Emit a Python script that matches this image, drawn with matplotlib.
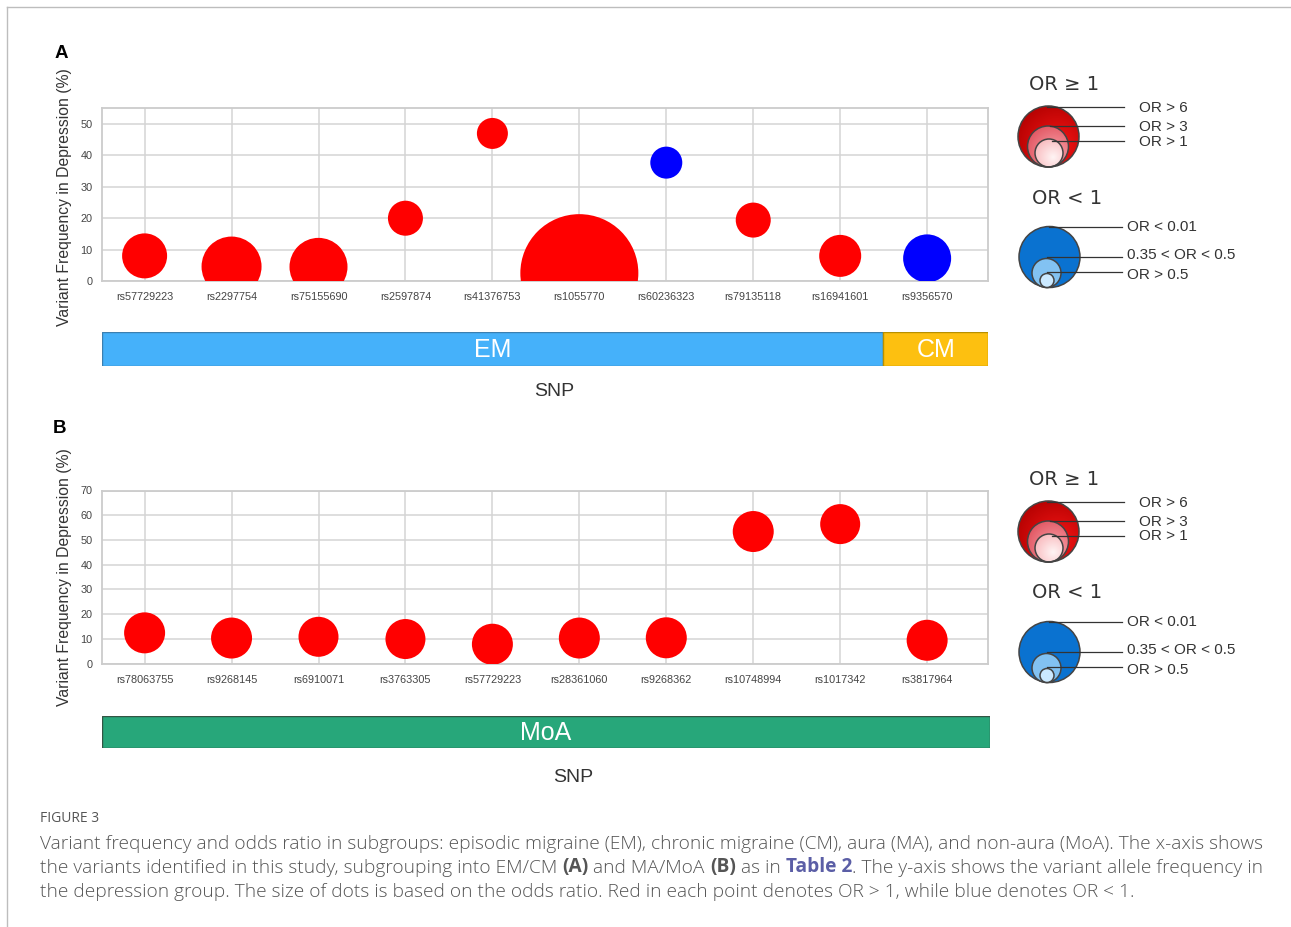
import matplotlib
matplotlib.use('Agg')
import matplotlib.pyplot as plt
import numpy as np
from matplotlib.patches import Circle, Rectangle
from matplotlib.colors import LinearSegmentedColormap

# ---------------- data ----------------
snps_a = ['rs57729223', 'rs2297754', 'rs75155690', 'rs2597874', 'rs41376753',
          'rs1055770', 'rs60236323', 'rs79135118', 'rs16941601', 'rs9356570']
freq_a = [8.0, 4.6, 4.5, 20.0, 47.0, 2.5, 37.7, 19.4, 8.0, 7.2]
bubble_a = [45, 60, 58, 35, 31, 118, 32, 35, 42, 48]          # bubble diameter (odds-ratio based)
or_ge1_a = [True, True, True, True, True, True, False, True, True, False]
groups_a = ['EM', 'CM']
group_n_a = [9, 1]
yticks_a = [0, 10, 20, 30, 40, 50]

snps_b = ['rs78063755', 'rs9268145', 'rs6910071', 'rs3763305', 'rs57729223',
          'rs28361060', 'rs9268362', 'rs10748994', 'rs1017342', 'rs3817964']
freq_b = [12.4, 10.3, 10.8, 9.9, 7.8, 10.3, 10.4, 53.4, 56.4, 9.4]
bubble_b = [41, 41, 40, 40, 41, 41, 41, 41, 40, 41]
or_ge1_b = [True] * 10
groups_b = ['MoA']
group_n_b = [10]
yticks_b = [0, 10, 20, 30, 40, 50, 60, 70]

# ---------------- figure ----------------
W, H = 1291, 927
DPI = 100
fig = plt.figure(figsize=(W / DPI, H / DPI), dpi=DPI)
fig.patch.set_facecolor('white')
PX2PT = 72.0 / DPI

def fr(x0, y0, x1, y1):
    return [x0 / W, 1 - y1 / H, (x1 - x0) / W, (y1 - y0) / H]

RED = '#ff0000'
BLUE = '#0000ff'
TXT = '#444444'
GRID = '#d4d4d4'

def bubble_panel(rect, snps, freq, bubble, ge1, yticks, ylim):
    ax = fig.add_axes(rect)
    x = np.arange(len(snps))
    cols = [RED if g else BLUE for g in ge1]
    sizes = [(d * PX2PT) ** 2 for d in bubble]
    ax.scatter(x, freq, s=sizes, c=cols, edgecolors='none', zorder=3)
    ax.set_xlim(-0.49, 9.7)
    ax.set_ylim(*ylim)
    ax.set_xticks(x)
    ax.set_xticklabels(snps, fontsize=7.8, color=TXT, family='Liberation Sans')
    ax.set_yticks(yticks)
    ax.set_yticklabels([str(t) for t in yticks], fontsize=7.8, color=TXT, family='Liberation Sans')
    ax.tick_params(axis='both', length=0)
    ax.tick_params(axis='x', pad=8)
    ax.tick_params(axis='y', pad=7)
    ax.grid(True, color=GRID, lw=1.1)
    ax.set_axisbelow(True)
    for sp in ax.spines.values():
        sp.set_color('#cccccc')
        sp.set_linewidth(1.3)
    ax.set_ylabel('Variant Frequency in Depression (%)', fontsize=11.3,
                  color='#333333', family='Liberation Sans', va='center')
    return ax

ax_a = bubble_panel(fr(102, 108, 988, 281), snps_a, freq_a, bubble_a, or_ge1_a, yticks_a, (0, 55.1))
ax_a.yaxis.set_label_coords(-0.042, 0.485)
ax_b = bubble_panel(fr(102, 490.5, 988, 663.5), snps_b, freq_b, bubble_b, or_ge1_b, yticks_b, (0, 70))
ax_b.yaxis.set_label_coords(-0.042, 0.5)

# ---------------- group bands ----------------
def band_panel(rect, groups, counts, colors, edges, xlim):
    bx = fig.add_axes(rect)
    bx.set_xlim(*xlim)
    bx.set_ylim(0, 1)
    bx.axis('off')
    start = 0
    for g, n, c, e in zip(groups, counts, colors, edges):
        l = xlim[0] if start == 0 else start - 0.5
        r = xlim[1] if start + n >= 10 else start + n - 0.5
        bx.add_patch(Rectangle((l, 0), r - l, 1, facecolor=c, edgecolor=e, lw=1.0))
        bx.text((l + r) / 2, 0.47, g, ha='center', va='center', color='white',
                fontsize=18, family='Liberation Sans')
        start += n
    return bx

band_panel(fr(102, 332, 988, 366), groups_a, group_n_a, ['#45b1fa', '#fdc010'],
           ['#3b7fb0', '#b89000'], (-0.465, 9.7))
band_panel(fr(102, 716, 990, 748), groups_b, group_n_b, ['#27a77a'], ['#335544'], (-0.49, 9.7))

# ---------------- overlay (pixel coordinates) ----------------
ov = fig.add_axes([0, 0, 1, 1], zorder=10)
ov.set_xlim(0, W)
ov.set_ylim(H, 0)
ov.axis('off')
ov.patch.set_alpha(0)

# frame
ov.plot([7, W], [7, 7], color='#bdbdbd', lw=1.0)
ov.plot([7, 7], [7, H], color='#bdbdbd', lw=1.0)

# panel letters & axis titles
ov.text(61, 53, 'A', fontsize=13.5, fontweight='bold', ha='center', va='center', family='Liberation Sans')
ov.text(59, 428, 'B', fontsize=13.5, fontweight='bold', ha='center', va='center', family='Liberation Sans')
ov.text(554, 392, 'SNP', fontsize=14, ha='center', va='center', color='#333333', family='Liberation Sans')
ov.text(573, 778, 'SNP', fontsize=14, ha='center', va='center', color='#333333', family='Liberation Sans')

def grad_circle(cx, cy, r, inner, outer, edge='#444444'):
    circ = Circle((cx, cy), r, facecolor='none', edgecolor=edge, lw=1.1, zorder=5)
    ov.add_patch(circ)
    n = 100
    yy, xx = np.mgrid[-1:1:n * 1j, -1:1:n * 1j]
    d = np.sqrt((xx - 0.3) ** 2 + (yy - 0.3) ** 2) / 1.6
    d = np.clip(d, 0, 1)
    cmap = LinearSegmentedColormap.from_list('g', [inner, outer])
    im = ov.imshow(d, cmap=cmap, extent=(cx - r, cx + r, cy + r, cy - r),
                   origin='upper', zorder=4, interpolation='bilinear')
    im.set_clip_path(circ)
    return circ

def legend(dy):
    lt = dict(fontsize=11, color='#333333', family='Liberation Sans', va='center', ha='left')
    ov.text(1029, 84 + dy, 'OR ≥ 1', fontsize=14, color='#333333', family='DejaVu Sans',
            va='center', ha='left')
    grad_circle(1048.5, 136.5 + dy, 30.5, '#f41515', '#b00000')
    grad_circle(1048, 146.5 + dy, 20.5, '#f8a0a8', '#e0505c')
    grad_circle(1049, 153 + dy, 14, '#fff4f4', '#f8b4b8')
    for (x0, yl, txt) in [(1047, 107, 'OR > 6'), (1050, 126, 'OR > 3'), (1052, 141, 'OR > 1')]:
        ov.plot([x0, 1124], [yl + dy, yl + dy], color='#333333', lw=0.9, zorder=6)
        ov.text(1139, yl + dy + 0.5, txt, **lt)
    ov.text(1032, 198 + dy, 'OR < 1', fontsize=14, color='#333333', family='DejaVu Sans',
            va='center', ha='left')
    ov.add_patch(Circle((1049.5, 257 + dy), 30.5, facecolor='#0a72d0', edgecolor='#444444', lw=1.1, zorder=4))
    ov.add_patch(Circle((1046.5, 273 + dy), 14.5, facecolor='#82c2f2', edgecolor='#444444', lw=1.1, zorder=5))
    ov.add_patch(Circle((1047, 280.5 + dy), 7, facecolor='#cbe9ff', edgecolor='#444444', lw=1.1, zorder=6))
    for (x0, yl, ty, txt) in [(1049, 227, 227, 'OR < 0.01'), (1047, 257, 255, '0.35 < OR < 0.5'),
                              (1047, 272, 275, 'OR > 0.5')]:
        ov.plot([x0, 1122], [yl + dy, yl + dy], color='#333333', lw=0.9, zorder=7)
        ov.text(1127, ty + dy, txt, **lt)

legend(0)
legend(395)

# ---------------- caption ----------------
CAP = '#555555'
CAPFONT = 'Open Sans'
CAPW = 'light'
ov.text(40, 818, 'FIGURE 3', fontsize=10, color=CAP, family=CAPFONT, va='center', ha='left')

line1 = ('Variant frequency and odds ratio in subgroups: episodic migraine (EM), chronic migraine (CM), '
         'aura (MA), and non-aura (MoA). The x-axis shows')
renderer = fig.canvas.get_renderer()
probe = ov.text(0, 0, line1, fontsize=12, family=CAPFONT, fontweight=CAPW)
wpx = probe.get_window_extent(renderer).width
probe.remove()
cap_fs = 12 * 1218.0 / wpx

def rich_line(y, parts):
    prev = None
    for s, bold, color in parts:
        kw = dict(fontsize=cap_fs, family=CAPFONT, color=color,
                  fontweight='bold' if bold else CAPW)
        if prev is None:
            t = ov.text(40, y, s, va='center', ha='left', **kw)
        else:
            t = ov.annotate(s, xy=(1, 0), xycoords=prev, va='bottom', ha='left', **kw)
        prev = t

rich_line(844, [(line1, False, CAP)])
rich_line(868, [('the variants identified in this study, subgrouping into EM/CM ', False, CAP),
                ('(A)', True, CAP),
                (' and MA/MoA ', False, CAP),
                ('(B)', True, CAP),
                (' as in ', False, CAP),
                ('Table 2', True, '#5b5ea6'),
                ('. The y-axis shows the variant allele frequency in', False, CAP)])
rich_line(892, [('the depression group. The size of dots is based on the odds ratio. '
                 'Red in each point denotes OR > 1, while blue denotes OR < 1.', False, CAP)])

fig.savefig('out.png', dpi=DPI)
